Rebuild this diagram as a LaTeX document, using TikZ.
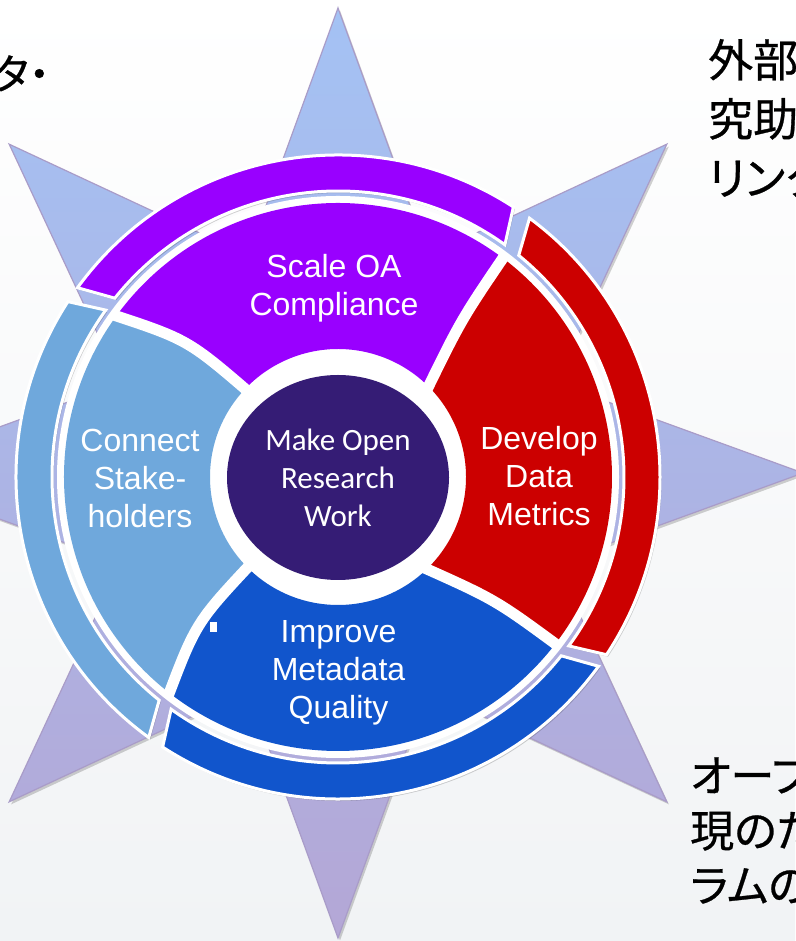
\documentclass[tikz,border=0pt]{standalone}
\usepackage{fontspec}
\newfontfamily\labfont{Liberation Sans}
\newfontfamily\cenfont{Carlito}
\newfontfamily\jpfont{Noto Sans CJK JP}[RawFeature=+palt, FakeBold=0.6]
\usetikzlibrary{shadows}
\definecolor{segPurple}{HTML}{9900FF}
\definecolor{segRed}{HTML}{CC0000}
\definecolor{segBlue}{HTML}{1155CC}
\definecolor{segLight}{HTML}{6FA8DC}
\definecolor{hubColor}{HTML}{351C75}
\definecolor{starTop}{HTML}{A4C2F4}
\definecolor{starBot}{HTML}{B4A7D6}
\definecolor{starLine}{HTML}{A99CC8}
\definecolor{bgBot}{HTML}{F1F3F5}
\begin{document}
\begin{tikzpicture}[x=1pt,y=1pt,
  band/.style={draw=white, line width=3pt, drop shadow={shadow xshift=1.5pt, shadow yshift=-2pt, opacity=0.18, fill=black}},
  segline/.style={draw=white, line width=11pt, shorten <=-12pt, shorten >=-8pt},
  seglabel/.style={text=white, font=\labfont\fontsize{32}{38}\selectfont, align=center, inner sep=0pt},
  hublabel/.style={text=white, font=\cenfont\fontsize{31}{38.4}\selectfont, align=center, inner sep=0pt},
  jptext/.style={text=black, align=left, inner sep=0pt}]
\useasboundingbox (0,0) rectangle (795,941);
% background
\shade[top color=white, middle color=white, bottom color=bgBot] (0,0) rectangle (795,941);
% star
\begin{scope}[shift={(338,468)}]
\path[draw=starLine, line width=1.2pt, top color=starTop, bottom color=starBot,
      drop shadow={shadow xshift=2pt, shadow yshift=-2.5pt, opacity=0.18, fill=black}]
  (90:465) -- (112.5:235.4) -- (135:465) -- (157.5:235.4) -- (180:465) -- (202.5:235.4)
  -- (225:465) -- (247.5:235.4) -- (270:465) -- (292.5:235.4) -- (315:465) -- (337.5:235.4)
  -- (0:465) -- (22.5:235.4) -- (45:465) -- (67.5:235.4) -- cycle;
\end{scope}
% ring
\begin{scope}[shift={(338,464)}]
  % outer bands
  \path[band, fill=segPurple] (57:322) arc[start angle=57, end angle=144, radius=322]
    -- (141.3:286) arc[start angle=141.3, end angle=54.3, radius=286] -- cycle;
  \path[band, fill=segRed] (-33.5:322) arc[start angle=-33.5, end angle=53.5, radius=322]
    -- (50.8:286) arc[start angle=50.8, end angle=-36.2, radius=286] -- cycle;
  \path[band, fill=segLight] (147:322) arc[start angle=147, end angle=234, radius=322]
    -- (231.3:286) arc[start angle=231.3, end angle=144.3, radius=286] -- cycle;
  \path[band, fill=segBlue] (237:322) arc[start angle=237, end angle=324, radius=322]
    -- (321.3:286) arc[start angle=321.3, end angle=234.3, radius=286] -- cycle;
  % white disk
  \fill[white] (0,0) circle[radius=281];
  % inner segments
  \fill[segPurple] (45:128) .. controls (123.1,157.3) .. (53:274)
    arc[start angle=53, end angle=144, radius=274]
    .. controls (-150,137.4) .. (136.5:128)
    arc[start angle=136.5, end angle=45, radius=128] -- cycle;
  \fill[segRed] (314:128) .. controls (157.2,-122.5) .. (322.5:274)
    arc[start angle=322.5, end angle=413, radius=274]
    .. controls (123.1,157.3) .. (45:128)
    arc[start angle=45, end angle=-46, radius=128] -- cycle;
  \fill[segLight] (136.5:128) .. controls (-150,137.4) .. (144:274)
    arc[start angle=144, end angle=232, radius=274]
    .. controls (-142,-145.4) .. (225:128)
    arc[start angle=225, end angle=136.5, radius=128] -- cycle;
  \fill[segBlue] (225:128) .. controls (-142,-145.4) .. (232:274)
    arc[start angle=232, end angle=322.5, radius=274]
    .. controls (157.2,-122.5) .. (314:128)
    arc[start angle=314, end angle=225, radius=128] -- cycle;
  % white separations
  \begin{scope}
    \clip (0,0) circle[radius=280];
    \draw[segline] (45:128) .. controls (123.1,157.3) .. (53:274);
    \draw[segline] (136.5:128) .. controls (-150,137.4) .. (144:274);
    \draw[segline] (225:128) .. controls (-142,-145.4) .. (232:274);
    \draw[segline] (314:128) .. controls (157.2,-122.5) .. (322.5:274);
  \end{scope}
  % hub
  \fill[hubColor] (0,-0.5) ellipse[x radius=111, y radius=102.5];
\end{scope}
\fill[white] (210,309) rectangle (217,319);
% labels
\node[seglabel] (scale) at (334,651.6) {\strut Scale OA\\\strut Compliance};
\node[seglabel] (develop) at (539,460.6) {\strut Develop\\\strut Data\\\strut Metrics};
\node[seglabel] (connect) at (140,458.6) {\strut Connect\\\strut Stake-\\\strut holders};
\node[seglabel] (improve) at (338.5,267.6) {\strut Improve\\\strut Metadata\\\strut Quality};
\node[hublabel] (hub) at (338,460.2) {\strut Make Open\\\strut Research\\\strut Work};
% Japanese text
\node[jptext, font=\jpfont\fontsize{42}{55}\selectfont, anchor=base east] (jpa) at (50,851.5) {タ・};
\node[jptext, font=\jpfont\fontsize{45}{59}\selectfont, anchor=north west] (jpb) at (708,905.6)
  {\strut 外部\\\strut 究助\\\strut リンク};
\node[jptext, font=\jpfont\fontsize{44}{55}\selectfont, anchor=north west] (jpc) at (690,187.8)
  {\strut オープ\\\strut 現のた\\\strut ラムの};
\end{tikzpicture}
\end{document}
